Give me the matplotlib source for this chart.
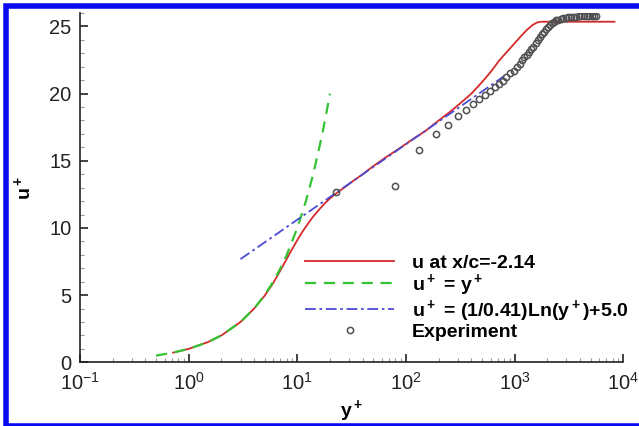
import numpy as np
import matplotlib
matplotlib.use("Agg")
import matplotlib.pyplot as plt
from matplotlib import patches, ticker

plt.rcParams["font.family"] = ["Liberation Sans", "DejaVu Sans"]

# computed profile, u at x/c=-2.14
red_y = [0.72, 1.0, 1.5, 2.0, 3.0, 4.0, 5.0, 6.0, 7.0, 7.5, 8.0, 8.5, 9.0, 10.0, 11.0,
         12.0, 13.0, 14.0, 16.0, 18.0, 20.0, 23.0, 27.0, 32.0, 40.0, 50.0, 65.0, 88.0,
         120.0, 150.0, 200.0, 250.0, 313.0, 400.0, 500.0, 600.0, 727.0, 870.0, 1000.0,
         1150.0, 1300.0, 1450.0, 1600.0, 1750.0, 3000.0, 8300.0]
red_u = [0.72, 1.0, 1.5, 2.0, 3.0, 4.0, 4.95, 5.9, 6.85, 7.3, 7.7, 8.1, 8.45, 9.1, 9.65,
         10.1, 10.5, 10.85, 11.4, 11.85, 12.2, 12.6, 13.0, 13.45, 14.0, 14.6, 15.25, 15.95,
         16.7, 17.2, 18.0, 18.6, 19.25, 20.0, 20.85, 21.6, 22.5, 23.2, 23.75,
         24.3, 24.75, 25.08, 25.29, 25.35, 25.35, 25.35]

# viscous sublayer u+ = y+
lin_y = [0.5, 0.7, 1.0, 1.5, 2.0, 3.0, 4.0, 5.0, 6.0, 7.0, 8.0, 10.0, 12.0, 14.0, 17.0, 20.0]
lin_u = [0.5, 0.7, 1.0, 1.5, 2.0, 3.0, 4.0, 5.0, 6.0, 7.0, 8.0, 10.0, 12.0, 14.0, 17.0, 20.0]

# log law, straight in semilog axes
log_y = [3.0, 800.0]
log_u = [7.68, 21.30]

# experiment
exp_y = [22.6, 79, 132, 188, 243, 298, 356, 410, 471, 532, 592, 653, 716, 778, 841,
         909, 984, 1050, 1110, 1170, 1230, 1290, 1350, 1420, 1490, 1560, 1630, 1700,
         1780, 1860, 1940, 2020, 2100, 2200, 2300, 2400, 2520, 2650, 2800, 2950, 3100,
         3300, 3500, 3700, 3900, 4100, 4350, 4600, 4850, 5100, 5400, 5650]
exp_u = [12.7, 13.1, 15.8, 17.0, 17.7, 18.3, 18.8, 19.25, 19.6, 19.9, 20.2, 20.5, 20.7,
         20.95, 21.2, 21.5, 21.7, 22.0, 22.2, 22.5, 22.7, 22.9, 23.1, 23.3, 23.5, 23.75,
         24.0, 24.2, 24.4, 24.6, 24.8, 24.95, 25.1, 25.25, 25.35, 25.45, 25.5, 25.55,
         25.6, 25.65, 25.68, 25.7, 25.72, 25.73, 25.74, 25.75, 25.76, 25.77, 25.78,
         25.78, 25.79, 25.8]

xticks = [0.1, 1, 10, 100, 1000, 10000]
xlabels = [r"$\mathregular{10^{-1}}$", r"$\mathregular{10^{0}}$", r"$\mathregular{10^{1}}$",
           r"$\mathregular{10^{2}}$", r"$\mathregular{10^{3}}$", r"$\mathregular{10^{4}}$"]
yticks = [0, 5, 10, 15, 20, 25]

fig = plt.figure(figsize=(6.39, 4.26), dpi=100)
ax = fig.add_axes([80 / 639, 1 - 362.3 / 426, 543.3 / 639, 349.3 / 426])

ax.plot(red_y, red_u, color="#d42a2a", lw=1.3, label="u at x/c=-2.14", zorder=3)
ax.plot(lin_y, lin_u, color="#33c433", lw=1.6, ls=(0, (5, 3.5)),
        label=r"u$\mathregular{^+}$ = y$\mathregular{^+}$", zorder=3)
ax.plot(log_y, log_u, color="#4b4bd4", lw=1.3, ls=(0, (6, 2, 1.5, 2)),
        label=r"u$\mathregular{^+}$ = (1/0.41)Ln(y$\mathregular{^+}$)+5.0", zorder=3)
ax.plot(exp_y, exp_u, ls="none", marker="o", ms=4.5, mfc="none", mec="#505050",
        mew=1.1, label="Experiment", zorder=4)

ax.set_xscale("log")
ax.set_xlim(0.1, 10000)
ax.set_ylim(0, 26)
ax.set_xticks(xticks)
ax.set_xticklabels(xlabels)
ax.xaxis.set_minor_locator(ticker.LogLocator(base=10, subs=np.arange(2, 10), numticks=20))
ax.xaxis.set_minor_formatter(ticker.NullFormatter())
ax.set_yticks(yticks)
ax.yaxis.set_minor_locator(ticker.MultipleLocator(1))

for side in ["top", "right"]:
    ax.spines[side].set_visible(False)
for side in ["left", "bottom"]:
    ax.spines[side].set_linewidth(1.2)
    ax.spines[side].set_color("#222222")

ax.tick_params(which="major", direction="in", length=6, width=1.2, colors="#222222",
               labelsize=14.5, pad=6)
ax.tick_params(which="minor", direction="in", length=3, width=0.8, colors="#999999")
ax.tick_params(axis="x", which="major", pad=7)

ax.set_xlabel(r"y$\mathregular{^+}$", fontsize=14, fontweight="bold", labelpad=3)
ax.set_ylabel(r"u$\mathregular{^+}$", fontsize=14, fontweight="bold", labelpad=11)

leg = ax.legend(loc="upper left", bbox_to_anchor=(305 / 639, 1 - 254 / 426),
                bbox_transform=fig.transFigure, frameon=False, borderpad=0,
                borderaxespad=0, handlelength=4.6, handletextpad=0.9,
                labelspacing=0.0, prop={"size": 14, "weight": "bold"})

# blue frame around the picture
frame = patches.Rectangle((6 / 639, 1 - 425.5 / 426), 1.1, (425.5 - 5.5) / 426,
                          transform=fig.transFigure, fill=False, edgecolor="#0a0af0",
                          linewidth=4.0, clip_on=False)
fig.patches.append(frame)

fig.savefig("out.png", dpi=100)
